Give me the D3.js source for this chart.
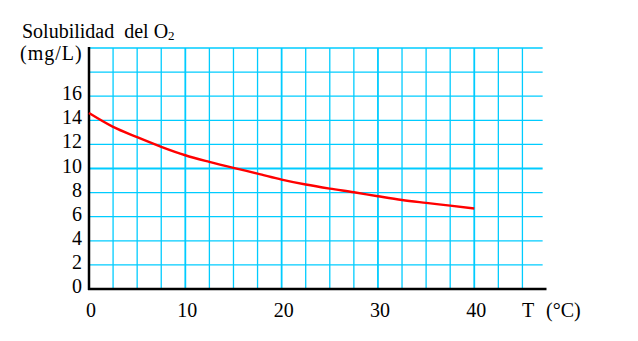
<!DOCTYPE html>
<html><head><meta charset="utf-8">
<script src="https://cdn.jsdelivr.net/npm/d3@7"></script>
<style>html,body{margin:0;padding:0;background:#fff;}svg{display:block;}</style>
</head><body>
<svg id="c" width="638" height="341"></svg>
<script>
// Data
const temps = [0, 2.5, 5, 7.5, 10, 12.5, 15, 17.5, 20, 22.5, 25, 27.5, 30, 32.5, 35, 37.5, 40];
const solubility = [14.6, 13.45, 12.6, 11.8, 11.1, 10.55, 10.05, 9.58, 9.08, 8.67, 8.33, 8.03, 7.7, 7.39, 7.15, 6.92, 6.68];
const xTickLabels = [0, 10, 20, 30, 40];
const yTickLabels = [0, 2, 4, 6, 8, 10, 12, 14, 16];
const xGrid = d3.range(2.5, 45.01, 2.5);
const yGrid = d3.range(2, 20.01, 2);

const svg = d3.select("#c");
const font = "'Liberation Serif','Times New Roman',serif";
const x = d3.scaleLinear().domain([0, 47.5]).range([89, 546.5]);
const y = d3.scaleLinear().domain([0, 20]).range([289, 48]);

const grid = svg.append("g");
grid.selectAll("line.v").data(xGrid).join("line")
  .attr("x1", d => x(d)).attr("x2", d => x(d))
  .attr("y1", y(20)).attr("y2", y(0))
  .attr("stroke", "#00CCFF")
  .attr("stroke-width", d => d % 10 === 0 ? 1.8 : 1.3);
grid.selectAll("line.h").data(yGrid).join("line")
  .attr("x1", x(0)).attr("x2", x(47.1))
  .attr("y1", d => y(d)).attr("y2", d => y(d))
  .attr("stroke", "#00CCFF")
  .attr("stroke-width", d => d === 10 ? 1.8 : 1.3);

// axes
svg.append("line").attr("x1", x(0) - 1).attr("x2", x(47.5)).attr("y1", y(0)).attr("y2", y(0))
  .attr("stroke", "#000").attr("stroke-width", 2.5);
svg.append("line").attr("x1", x(0)).attr("x2", x(0)).attr("y1", y(20) - 1).attr("y2", y(0) + 1)
  .attr("stroke", "#000").attr("stroke-width", 2.5);

// curve
const line = d3.line().x((d, i) => x(temps[i])).y(d => y(d)).curve(d3.curveMonotoneX);
svg.append("path").datum(solubility).attr("d", line)
  .attr("fill", "none").attr("stroke", "#FF0000").attr("stroke-width", 2.4);

// tick labels
svg.append("g").selectAll("text").data(yTickLabels).join("text")
  .attr("x", 82).attr("y", d => y(d)).attr("dy", "0.2em")
  .attr("text-anchor", "end").attr("font-family", font).attr("font-size", 20)
  .text(d => d);
svg.append("g").selectAll("text").data(xTickLabels).join("text")
  .attr("x", d => x(d) + 2).attr("y", 317)
  .attr("text-anchor", "middle").attr("font-family", font).attr("font-size", 20)
  .text(d => d);

// axis titles
const t = svg.append("text").attr("x", 22).attr("y", 38).attr("font-family", font).attr("font-size", 20)
  .style("white-space", "pre");
t.append("tspan").text("Solubilidad  del O");
t.append("tspan").attr("font-size", 13).attr("dy", 2).text("2");
svg.append("text").attr("x", 20).attr("y", 60).attr("font-family", font).attr("font-size", 20)
  .attr("letter-spacing", 1).text("(mg/L)");
svg.append("text").attr("x", 522).attr("y", 317).attr("font-family", font).attr("font-size", 20).text("T");
svg.append("text").attr("x", 546).attr("y", 317).attr("font-family", font).attr("font-size", 20).text("(°C)");
</script>
</body></html>
